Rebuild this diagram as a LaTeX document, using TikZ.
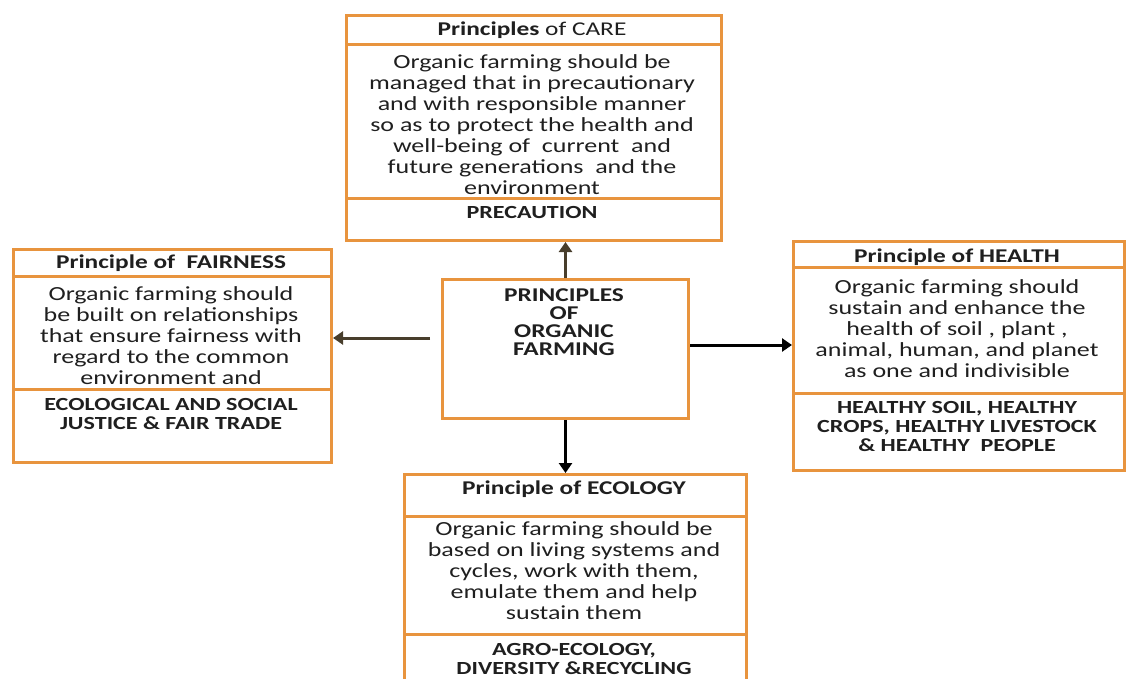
\documentclass[tikz,border=0pt]{standalone}
\usepackage{fontspec}
\setmainfont{Carlito}[FakeStretch=1.3]
\usetikzlibrary{arrows.meta}
\definecolor{orng}{RGB}{232,148,62}
\definecolor{olivebrown}{RGB}{72,62,44}
\begin{document}
\begin{tikzpicture}[x=1pt,y=-1pt,
  box/.style={draw=orng,line width=3pt,rectangle,anchor=north west,inner sep=0pt},
  divider/.style={draw=orng,line width=3pt},
  body/.style={font=\fontsize{20}{21}\selectfont,align=center,inner sep=0pt,text=black!88},
  ttl/.style={font=\fontsize{19.5}{20}\selectfont\bfseries,align=center,inner sep=0pt,text=black!88},
  keytext/.style={font=\fontsize{18.5}{19}\selectfont\bfseries,align=center,inner sep=0pt,text=black!88},
  arr/.style={line width=3pt,-{Triangle[length=10pt,width=13pt]}}]
\clip (0,0) rectangle (1126,679);
\useasboundingbox (0,0) rectangle (1126,679);

% boxes
\node[box,minimum width=375pt,minimum height=225pt] (care) at (345,14) {};
\node[box,minimum width=318pt,minimum height=213pt] (fair) at (12,248) {};
\node[box,minimum width=246pt,minimum height=139pt] (center) at (441,278) {};
\node[box,minimum width=331pt,minimum height=229pt] (health) at (792,240) {};
\node[box,minimum width=342pt,minimum height=230pt] (eco) at (403,473) {};

% dividers
\draw[divider] (care.west |- 0,45) -- (care.east |- 0,45);
\draw[divider] (care.west |- 0,198) -- (care.east |- 0,198);
\draw[divider] (fair.west |- 0,276) -- (fair.east |- 0,276);
\draw[divider] (fair.west |- 0,389) -- (fair.east |- 0,389);
\draw[divider] (health.west |- 0,267) -- (health.east |- 0,267);
\draw[divider] (health.west |- 0,393) -- (health.east |- 0,393);
\draw[divider] (eco.west |- 0,516) -- (eco.east |- 0,516);
\draw[divider] (eco.west |- 0,634) -- (eco.east |- 0,634);

% texts
\node[ttl,font=\fontsize{19.5}{20}\selectfont] (caret) at (532,30) {\textbf{Principles} of CARE};
\node[body] (careb) at (532,125) {Organic farming should be\\managed that in precautionary\\and with responsible manner\\so as to protect the health and\\well-being of \ current \ and\\future generations \ and the\\environment};
\node[keytext] (carek) at (532,213) {PRECAUTION};

\node[ttl] (fairt) at (171,263) {Principle of \ FAIRNESS};
\node[body] (fairb) at (171,336) {Organic farming should\\be built on relationships\\that ensure fairness with\\regard to the common\\environment and};
\node[keytext] (fairk) at (171,414) {ECOLOGICAL AND SOCIAL\\JUSTICE \& FAIR TRADE};

\node[ttl] (healtht) at (957,257) {Principle of HEALTH};
\node[body] (healthb) at (957,329) {Organic farming should\\sustain and enhance the\\health of soil , plant ,\\animal, human, and planet\\as one and indivisible};
\node[keytext] (healthk) at (957,426) {HEALTHY SOIL, HEALTHY\\CROPS, HEALTHY LIVESTOCK\\\& HEALTHY \ PEOPLE};

\node[ttl] (ecot) at (574,489) {Principle of ECOLOGY};
\node[body] (ecob) at (574,571) {Organic farming should be\\based on living systems and\\cycles, work with them,\\emulate them and help\\sustain them};
\node[keytext] (ecok) at (574,659) {AGRO-ECOLOGY,\\DIVERSITY \&RECYCLING};

\node[keytext,font=\fontsize{19.5}{18}\selectfont\bfseries] (centert) at (564,322) {PRINCIPLES\\OF\\ORGANIC\\FARMING};

% arrows
\draw[arr,olivebrown] (center.north) -- (center.north |- care.south);
\draw[arr,olivebrown] ([xshift=-11pt]center.west |- 0,338) -- (fair.east |- 0,338);
\draw[arr,black] (center.east |- 0,345) -- (health.west |- 0,345);
\draw[arr,black] (center.south) -- (center.south |- eco.north);
\end{tikzpicture}
\end{document}
